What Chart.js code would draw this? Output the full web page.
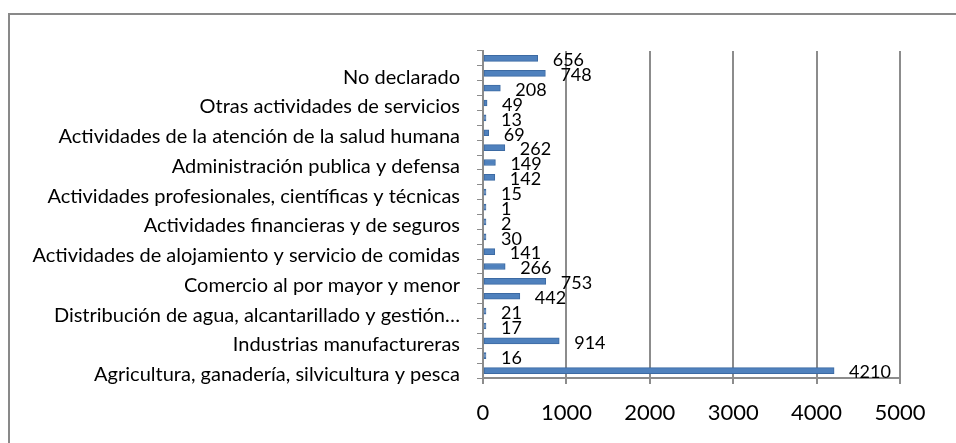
<!DOCTYPE html>
<html>
<head>
<meta charset="utf-8">
<script src="https://cdn.jsdelivr.net/npm/chart.js@4.4.0/dist/chart.umd.min.js"></script>
<style>
    html, body { margin: 0; padding: 0; background: #fff; }
    #marco { position: absolute; left: 0; top: 0; width: 956px; height: 443px; }
    #borde { position: absolute; left: 8px; top: 13px; width: 960px; height: 440px;
             border-left: 2px solid #898989; border-top: 2px solid #898989; }
</style>
</head>
<body>
<div id="marco">
    <div id="borde"></div>
    <canvas id="grafico" width="956" height="443"></canvas>
</div>
<script>
const categorias = [
    "Agricultura, ganadería, silvicultura y pesca",
    "Explotación de minas y canteras",
    "Industrias manufactureras",
    "Suministro de electricidad, gas, vapor y aire acondicionado",
    "Distribución de agua, alcantarillado y gestión…",
    "Construcción",
    "Comercio al por mayor y menor",
    "Transporte y almacenamiento",
    "Actividades de alojamiento y servicio de comidas",
    "Información y comunicación",
    "Actividades financieras y de seguros",
    "Actividades inmobiliarias",
    "Actividades profesionales, científicas y técnicas",
    "Actividades de servicios administrativos y de apoyo",
    "Administración publica y defensa",
    "Enseñanza",
    "Actividades de la atención de la salud humana",
    "Artes, entretenimiento y recreación",
    "Otras actividades de servicios",
    "Actividades de los hogares como empleadores",
    "No declarado",
    "Trabajador nuevo"
];
const valores = [4210, 16, 914, 17, 21, 442, 753, 266, 141, 30, 2, 1, 15, 142, 149, 262, 69, 13, 49, 208, 748, 656];
const ticksX = [0, 1000, 2000, 3000, 4000, 5000];

const fuente = 'Lato';

// etiquetas con el valor a la derecha de cada barra
const etiquetasValor = {
    id: 'etiquetasValor',
    afterDatasetsDraw(chart) {
        const ctx = chart.ctx;
        const meta = chart.getDatasetMeta(0);
        ctx.save();
        ctx.font = '18px ' + fuente;
        ctx.fillStyle = '#000';
        ctx.textAlign = 'left';
        ctx.textBaseline = 'middle';
        meta.data.forEach(function(barra, i) {
            ctx.fillText(valores[i], barra.x + 15, barra.y + 2);
        });
        ctx.restore();
    }
};

new Chart(document.getElementById('grafico'), {
    type: 'bar',
    data: {
        labels: categorias,
        datasets: [{
            data: valores,
            backgroundColor: '#4f81bd',
            borderColor: '#3c6aa3',
            borderWidth: 1,
            borderSkipped: false,
            barThickness: 6,
            minBarLength: 3
        }]
    },
    options: {
        indexAxis: 'y',
        responsive: false,
        animation: false,
        events: [],
        layout: { padding: { top: 51, right: 56, left: 0, bottom: 0 } },
        plugins: { legend: { display: false }, tooltip: { enabled: false } },
        scales: {
            x: {
                min: 0,
                max: 5000,
                afterFit(scale) { scale.height = 65; },
                afterBuildTicks(scale) { scale.ticks = ticksX.map(v => ({ value: v })); },
                grid: { color: '#8c8c8c', lineWidth: 2, tickLength: 6 },
                border: { color: '#8c8c8c', width: 2 },
                ticks: {
                    color: '#000',
                    font: { family: fuente, size: 22 },
                    padding: 16,
                    callback: v => String(v)
                }
            },
            y: {
                reverse: true,
                afterFit(scale) { scale.width = 483; },
                grid: { drawOnChartArea: false, color: '#8c8c8c', tickLength: 6, offset: true },
                border: { color: '#8c8c8c', width: 2 },
                ticks: {
                    color: '#000',
                    autoSkip: false,
                    font: { family: fuente, size: 20 },
                    padding: 17,
                    labelOffset: 4,
                    callback: function(v, i) { return i % 2 === 0 ? categorias[i] : ''; }
                }
            }
        }
    },
    plugins: [etiquetasValor]
});
</script>
</body>
</html>
